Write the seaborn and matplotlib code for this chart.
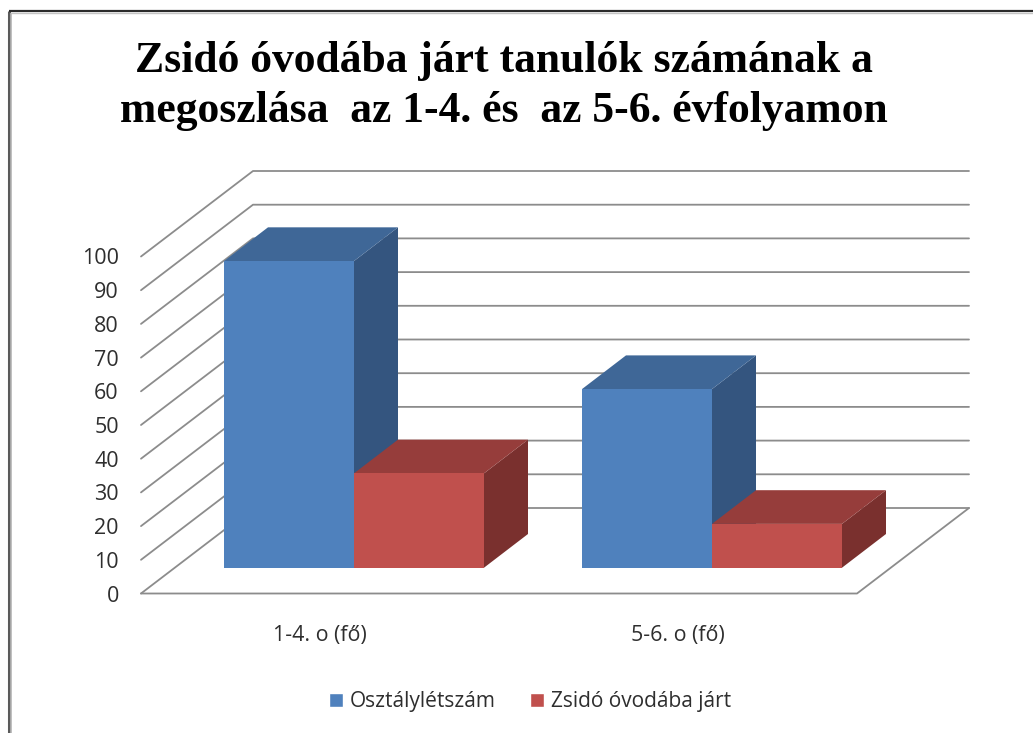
import matplotlib
matplotlib.use("Agg")
import matplotlib.pyplot as plt
import pandas as pd
import seaborn as sns
from matplotlib.patches import Polygon, Rectangle

# values
categories = ["1-4. o (fő)", "5-6. o (fő)"]
series_names = ["Osztálylétszám", "Zsidó óvodába járt"]
class_size = [91, 53]
jewish_kindergarten = [28, 13]
y_ticks = list(range(0, 101, 10))
title = "Zsidó óvodába járt tanulók számának a\nmegoszlása  az 1-4. és  az 5-6. évfolyamon"

front_colors = ["#4F81BD", "#C0504D"]
top_colors = ["#3F6797", "#963D3B"]
side_colors = ["#34557F", "#7A302E"]
grid_color = "#8C8C8C"
text_color = "#2E2E2E"

W, H = 1033, 733


def px_axes(fig, left, right, top, bottom):
    # axes placed by pixel edges, y counted from the top like in the screenshot
    return fig.add_axes([left / W, 1 - bottom / H, (right - left) / W, (bottom - top) / H])


sns.set_theme(style="white")
plt.rcParams["font.family"] = ["Open Sans", "DejaVu Sans"]

fig = plt.figure(figsize=(W / 100, H / 100), dpi=100, facecolor="white")

# window frame of the screenshot
frame = fig.add_axes([0, 0, 1, 1])
frame.set_xlim(0, W)
frame.set_ylim(H, 0)
frame.axis("off")
frame.plot([9, 9], [H, 11], color="#5A5A5A", lw=2.2, solid_capstyle="butt")
frame.plot([9, W], [11, 11], color="#2A2A2A", lw=1.6, solid_capstyle="butt")
frame.plot([11, 11], [H, 13], color="#B5B5B5", lw=1.2, solid_capstyle="butt")
frame.plot([11, W], [13, 13], color="#C4C4C4", lw=1.0, solid_capstyle="butt")

frame.text(503.5, 86, title, ha="center", va="center", family="Liberation Serif",
           fontweight="bold", fontsize=31.4, color="black", linespacing=1.34)

# front plane of the box: carries the tick labels and the wall lines
wall = px_axes(fig, 141, 857, 256.5, 593.5)
wall.set_xlim(-0.5, 1.5)
wall.set_ylim(0, 100)
wall.set_facecolor("none")
sns.despine(ax=wall, left=True, bottom=True)
wall.set_xticks(range(len(categories)))
wall.set_xticklabels(categories)
wall.set_yticks(y_ticks)
wall.tick_params(axis="x", length=0, pad=23, labelsize=15.4, labelcolor=text_color)
wall.tick_params(axis="y", length=0, pad=16, labelsize=15.5, labelcolor=text_color)

depth_x = 112 / 358
depth_y = 85.5 / 3.37
x0, x1 = -0.5, 1.5
for v in y_ticks:
    wall.plot([x0, x0 + depth_x, x1 + depth_x], [v, v + depth_y, v + depth_y],
              color=grid_color, lw=1.3, clip_on=False, zorder=1)
wall.plot([x0, x1, x1 + depth_x], [0, 0, depth_y], color=grid_color, lw=1.3,
          clip_on=False, zorder=1)

# the bars stand on a plane a bit behind the front edge
ax = px_axes(fig, 175, 891, 230.7, 567.7)
ax.set_facecolor("none")
df = pd.DataFrame({
    "kategoria": categories * 2,
    "sorozat": [series_names[0]] * 2 + [series_names[1]] * 2,
    "fo": class_size + jewish_kindergarten,
})
sns.barplot(data=df, x="kategoria", y="fo", hue="sorozat", palette=front_colors,
            width=260 / 358, gap=0, saturation=1, linewidth=0, ax=ax)
ax.set_xlim(-0.5, 1.5)
ax.set_ylim(0, 100)
ax.axis("off")

# top and side faces taken from the bars seaborn drew
bar_dx = 44 / 358
bar_dy = 33.7 / 3.37
for container, top_c, side_c in zip(ax.containers, top_colors, side_colors):
    for bar in container:
        bx0, by0 = bar.get_x(), bar.get_y()
        bx1, by1 = bx0 + bar.get_width(), by0 + bar.get_height()
        side = Polygon([(bx1, by0), (bx1 + bar_dx, by0 + bar_dy),
                        (bx1 + bar_dx, by1 + bar_dy), (bx1, by1)],
                       facecolor=side_c, edgecolor="none", clip_on=False, zorder=2)
        top = Polygon([(bx0, by1), (bx1, by1), (bx1 + bar_dx, by1 + bar_dy),
                       (bx0 + bar_dx, by1 + bar_dy)],
                      facecolor=top_c, edgecolor="none", clip_on=False, zorder=2)
        ax.add_patch(side)
        ax.add_patch(top)
        bar.set_zorder(3)

handles = [Rectangle((0, 0), 1, 1, facecolor=c) for c in front_colors]
if ax.get_legend() is not None:
    ax.get_legend().remove()
fig.legend(handles, series_names, loc="center", bbox_to_anchor=(530 / W, 1 - 702 / H),
           ncol=2, frameon=False, fontsize=15, labelcolor=text_color,
           handlelength=0.67, handleheight=0.67, handletextpad=0.33, columnspacing=1.63)

fig.savefig("out.png", dpi=100)
